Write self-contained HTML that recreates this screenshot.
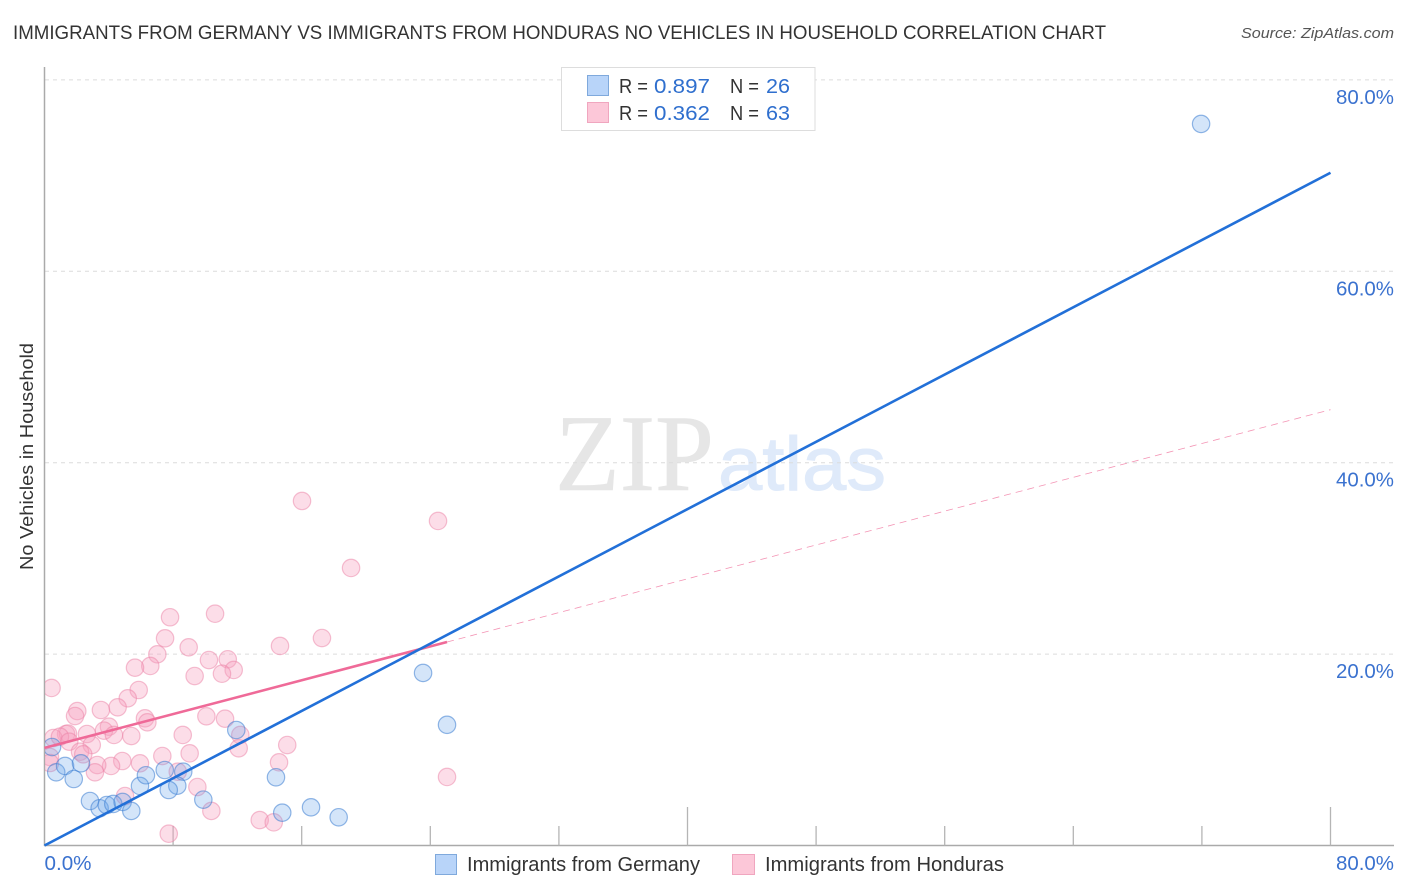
<!DOCTYPE html>
<html lang="en">
<head>
<meta charset="utf-8">
<title>Immigrants from Germany vs Immigrants from Honduras No Vehicles in Household Correlation Chart</title>
<style>
html,body{margin:0;padding:0;background:#fff;}
svg{display:block;font-family:"Liberation Sans",sans-serif;}
</style>
</head>
<body>
<svg id="chart" xmlns="http://www.w3.org/2000/svg" width="1406" height="892" viewBox="0 0 1406 892">
  <defs>
    <clipPath id="plot-clip"><rect x="45" y="60" width="1360" height="786"/></clipPath>
  </defs>
  <rect x="0" y="0" width="1406" height="892" fill="#ffffff"/>
  <text x="13" y="39" font-size="19" fill="#333333" textLength="1093" lengthAdjust="spacingAndGlyphs">IMMIGRANTS FROM GERMANY VS IMMIGRANTS FROM HONDURAS NO VEHICLES IN HOUSEHOLD CORRELATION CHART</text>
  <text x="1394" y="38" font-size="15" font-style="italic" fill="#555555" text-anchor="end" textLength="153" lengthAdjust="spacingAndGlyphs">Source: ZipAtlas.com</text>

  <g id="watermark">
    <text x="555" y="490" font-family="'Liberation Serif',serif" font-size="109" fill="#e6e6e6" stroke="#e6e6e6" stroke-width="0.6" textLength="159" lengthAdjust="spacingAndGlyphs">ZIP</text>
    <text x="718" y="490" font-size="76" fill="#dfeafa" stroke="#dfeafa" stroke-width="1" textLength="168" lengthAdjust="spacingAndGlyphs">atlas</text>
  </g>

  <g id="grid"></g>
  <g id="axes"></g>
  <g id="points" clip-path="url(#plot-clip)"></g>
  <g id="trends"></g>
  <g id="tick-labels"></g>

  <text transform="translate(33,456.5) rotate(-90)" font-size="18.5" fill="#333333" text-anchor="middle" textLength="227" lengthAdjust="spacingAndGlyphs">No Vehicles in Household</text>

  <g>
    <rect x="561.5" y="67.5" width="253.5" height="63" fill="#ffffff" stroke="#dddddd" stroke-width="1"/>
    <rect x="587.5" y="75.5" width="21" height="20" fill="#b8d4f9" stroke="#7fa9dc" stroke-width="1"/>
    <rect x="587.5" y="102.5" width="21" height="20" fill="#fcc7d8" stroke="#f0a6bf" stroke-width="1"/>
    <text x="619" y="93" font-size="20" fill="#333333" textLength="29" lengthAdjust="spacingAndGlyphs">R =</text>
    <text x="654" y="93" font-size="20" fill="#2f6fce" textLength="56" lengthAdjust="spacingAndGlyphs">0.897</text>
    <text x="730" y="93" font-size="20" fill="#333333" textLength="29" lengthAdjust="spacingAndGlyphs">N =</text>
    <text x="766" y="93" font-size="20" fill="#2f6fce" textLength="24" lengthAdjust="spacingAndGlyphs">26</text>
    <text x="619" y="120" font-size="20" fill="#333333" textLength="29" lengthAdjust="spacingAndGlyphs">R =</text>
    <text x="654" y="120" font-size="20" fill="#2f6fce" textLength="56" lengthAdjust="spacingAndGlyphs">0.362</text>
    <text x="730" y="120" font-size="20" fill="#333333" textLength="29" lengthAdjust="spacingAndGlyphs">N =</text>
    <text x="766" y="120" font-size="20" fill="#2f6fce" textLength="24" lengthAdjust="spacingAndGlyphs">63</text>
  </g>

  <g>
    <rect x="435.5" y="854.5" width="21" height="20" fill="#b8d4f9" stroke="#7fa9dc" stroke-width="1"/>
    <text x="467" y="871" font-size="20" fill="#333333" textLength="233" lengthAdjust="spacingAndGlyphs">Immigrants from Germany</text>
    <rect x="732.5" y="854.5" width="22" height="20" fill="#fcc7d8" stroke="#f0a6bf" stroke-width="1"/>
    <text x="765" y="871" font-size="20" fill="#333333" textLength="239" lengthAdjust="spacingAndGlyphs">Immigrants from Honduras</text>
  </g>
</svg>
<script>
var germanyX = [0.73,1.28,1.82,2.27,0.47,2.83,3.43,3.87,4.28,4.86,5.40,5.94,6.31,7.48,8.63,8.26,7.73,9.88,11.93,14.40,14.79,16.58,18.30,23.55,25.04,71.95];
var germanyY = [7.65,8.31,6.95,8.59,10.29,4.65,3.89,4.23,4.34,4.55,3.61,6.22,7.34,7.89,7.71,6.25,5.80,4.79,12.07,7.13,3.43,3.99,2.95,18.03,12.61,75.40];
var hondurasX = [0.44,7.81,10.61,7.50,8.97,7.02,10.23,11.40,11.77,11.04,9.34,6.58,5.63,5.86,5.18,4.55,3.51,2.04,1.90,6.25,6.40,10.07,11.23,4.01,3.70,4.32,5.40,2.64,1.34,1.46,0.55,0.96,8.60,12.18,12.08,2.94,1.54,7.33,9.03,4.84,5.94,4.14,3.28,3.14,2.21,2.41,8.29,9.51,5.01,10.38,7.73,13.39,14.26,15.10,14.59,16.02,24.48,19.07,17.26,14.65,25.04,0.34,0.34];
var hondurasY = [16.46,23.85,24.22,21.65,20.71,19.98,19.38,19.46,18.34,17.95,17.71,18.76,18.58,16.25,15.38,14.44,14.16,14.05,13.53,13.29,12.87,13.50,13.25,12.41,12.00,11.55,11.44,11.65,11.65,11.70,11.23,11.37,11.55,11.55,10.16,10.50,10.85,9.35,9.63,8.83,8.59,8.31,8.41,7.65,9.80,9.53,7.71,6.11,5.17,3.61,1.23,2.66,2.42,10.50,8.69,36.00,33.91,29.00,21.68,20.85,7.16,9.25,8.62];
var yTickValues = [20,40,60,80];
var yTickLabels = ["20.0%","40.0%","60.0%","80.0%"];
var xTickValues = [8,16,24,32,40,48,56,64,72,80];
var xEndValues = [0,80];
var xEndLabels = ["0.0%","80.0%"];
var germanyTrendX = [0,80];
var germanyTrendY = [0,70.3];
var hondurasSolidX = [0,25.04];
var hondurasSolidY = [10.2,21.26];
var hondurasDashX = [25.04,80];
var hondurasDashY = [21.26,45.54];

var NS = 'http://www.w3.org/2000/svg';
function xScale(v){ return 44.5 + v * 16.075; }
function yScale(v){ return 845.5 - v * 9.57; }
function make(tag, attrs, parent){
  var el = document.createElementNS(NS, tag);
  for (var k in attrs) el.setAttribute(k, attrs[k]);
  parent.appendChild(el);
  return el;
}
var gridG = document.getElementById('grid');
var axesG = document.getElementById('axes');
var pointsG = document.getElementById('points');
var trendsG = document.getElementById('trends');
var labelsG = document.getElementById('tick-labels');

yTickValues.forEach(function(v, i){
  var line = make('line', {x1:45, x2:1393, y1:yScale(v), y2:yScale(v), stroke:'#dcdcdc', 'stroke-width':1, 'stroke-dasharray':'4 4'}, gridG);
  
  
  var label = make('text', {x:1394, y:yScale(v) + 24, 'font-size':20, fill:'#3b72cf', 'text-anchor':'end', textLength:58, lengthAdjust:'spacingAndGlyphs'}, labelsG);
  
  
  label.textContent = yTickLabels[i];
});

var yAxis = make('line', {x1:44.5, x2:44.5, y1:67, y2:846, stroke:'#aaaaaa', 'stroke-width':1.5}, axesG);


var xAxis = make('line', {x1:44, x2:1394, y1:845.5, y2:845.5, stroke:'#aaaaaa', 'stroke-width':1.5}, axesG);



xTickValues.forEach(function(v){
  var major = (v === 40 || v === 80);
  var tick = make('line', {x1:xScale(v), x2:xScale(v), y1:major ? 807 : 826, y2:845.5, stroke:'#b5b5b5', 'stroke-width':1.3}, axesG);
  
  
});

xEndValues.forEach(function(v, i){
  var anchorStart = (i === 0);
  var label = make('text', {x:anchorStart ? xScale(v) : 1394, y:870, 'font-size':20, fill:'#3b72cf', 'text-anchor':anchorStart ? 'start' : 'end', textLength:anchorStart ? 47 : 58, lengthAdjust:'spacingAndGlyphs'}, labelsG);
  
  
  label.textContent = xEndLabels[i];
});

hondurasX.forEach(function(v, i){
  var c = make('circle', {cx:xScale(v), cy:yScale(hondurasY[i]), r:8.7, fill:'rgba(247,160,190,0.36)', stroke:'rgba(236,130,165,0.5)', 'stroke-width':1.2}, pointsG);
  
  
});
germanyX.forEach(function(v, i){
  var c = make('circle', {cx:xScale(v), cy:yScale(germanyY[i]), r:8.7, fill:'rgba(100,160,235,0.28)', stroke:'rgba(60,125,210,0.55)', 'stroke-width':1.2}, pointsG);
  
  
});

var dash = make('line', {x1:xScale(hondurasDashX[0]), y1:yScale(hondurasDashY[0]), x2:xScale(hondurasDashX[1]), y2:yScale(hondurasDashY[1]), stroke:'#f0719c', 'stroke-width':0.8, 'stroke-dasharray':'7 5', opacity:0.75}, trendsG);


var solid = make('line', {x1:xScale(hondurasSolidX[0]), y1:yScale(hondurasSolidY[0]), x2:xScale(hondurasSolidX[1]), y2:yScale(hondurasSolidY[1]), stroke:'#ef6a98', 'stroke-width':2.6}, trendsG);


var blue = make('line', {x1:xScale(germanyTrendX[0]), y1:yScale(germanyTrendY[0]), x2:xScale(germanyTrendX[1]), y2:yScale(germanyTrendY[1]), stroke:'#2270d8', 'stroke-width':2.6}, trendsG);


</script>
</body>
</html>
